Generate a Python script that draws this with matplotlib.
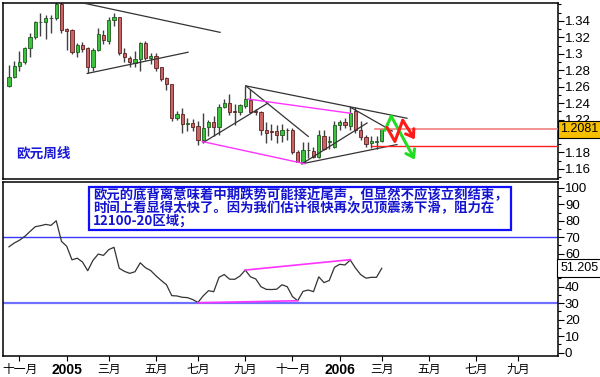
import numpy as np
import pandas as pd
import matplotlib
matplotlib.use('Agg')
import matplotlib.pyplot as plt
import matplotlib.dates as mdates
import matplotlib.transforms as mtrans
from matplotlib.patches import Rectangle
from matplotlib.ticker import MultipleLocator

plt.rcParams['font.family'] = ['Liberation Sans', 'Noto Sans CJK SC', 'DejaVu Sans']

# ---------------- data ----------------
weeks = pd.date_range('2004-10-22', periods=72, freq='W-FRI')

opens = [1.2610, 1.2720, 1.2847, 1.2905, 1.3068, 1.3204, 1.3381, 1.3381, 1.3430, 1.3430,
         1.3600, 1.3307, 1.3286, 1.3019, 1.3102, 1.3068, 1.2835, 1.3052, 1.3233, 1.3154,
         1.3409, 1.3442, 1.3012, 1.2945, 1.2892, 1.2938, 1.3135, 1.2950, 1.2970, 1.2835,
         1.2704, 1.2631, 1.2220, 1.2269, 1.2151, 1.2158, 1.2118, 1.1954, 1.2109, 1.2167,
         1.2109, 1.2355, 1.2404, 1.2302, 1.2290, 1.2364, 1.2437, 1.2302, 1.2293, 1.2077,
         1.2056, 1.2056, 1.2015, 1.2077, 1.2077, 1.1810, 1.1687, 1.1831, 1.1819, 1.1749,
         1.1995, 1.1933, 1.1872, 1.2138, 1.2167, 1.2118, 1.2302, 1.2077, 1.1982, 1.1912,
         1.1933, 1.1942]
highs = [1.2868, 1.2917, 1.3040, 1.3080, 1.3249, 1.3400, 1.3499, 1.3470, 1.3470, 1.3667,
         1.3640, 1.3310, 1.3300, 1.3130, 1.3142, 1.3080, 1.3068, 1.3311, 1.3295, 1.3450,
         1.3499, 1.3450, 1.3068, 1.2979, 1.3040, 1.3142, 1.3154, 1.3012, 1.3012, 1.2843,
         1.2720, 1.2638, 1.2302, 1.2335, 1.2220, 1.2212, 1.2179, 1.2281, 1.2200, 1.2241,
         1.2384, 1.2453, 1.2515, 1.2384, 1.2392, 1.2610, 1.2569, 1.2323, 1.2302, 1.2171,
         1.2146, 1.2138, 1.2146, 1.2097, 1.2097, 1.1831, 1.1933, 1.1933, 1.1872, 1.2077,
         1.2077, 1.1995, 1.2179, 1.2200, 1.2220, 1.2351, 1.2351, 1.2179, 1.2015, 1.1995,
         1.1995, 1.2089]
lows = [1.2597, 1.2708, 1.2794, 1.2876, 1.2958, 1.3184, 1.3212, 1.3175, 1.3249, 1.3409,
        1.3249, 1.3049, 1.3000, 1.2958, 1.3019, 1.2761, 1.2794, 1.3040, 1.3122, 1.3122,
        1.3335, 1.2991, 1.2896, 1.2835, 1.2835, 1.2794, 1.2926, 1.2876, 1.2794, 1.2671,
        1.2557, 1.2179, 1.2200, 1.2035, 1.2056, 1.2056, 1.1892, 1.1912, 1.1995, 1.1995,
        1.2015, 1.2343, 1.2261, 1.2138, 1.2261, 1.2343, 1.2281, 1.2261, 1.2015, 1.1912,
        1.1954, 1.1912, 1.1933, 1.1954, 1.1777, 1.1679, 1.1666, 1.1728, 1.1736, 1.1736,
        1.1831, 1.1843, 1.1851, 1.2077, 1.2097, 1.2077, 1.2035, 1.1954, 1.1872, 1.1859,
        1.1843, 1.1933]
closes = [1.2712, 1.2847, 1.2905, 1.3068, 1.3204, 1.3381, 1.3385, 1.3430, 1.3433, 1.3600,
          1.3295, 1.3277, 1.3019, 1.3102, 1.3061, 1.2835, 1.3052, 1.3245, 1.3163, 1.3409,
          1.3442, 1.3007, 1.2958, 1.2896, 1.2933, 1.3135, 1.2945, 1.2979, 1.2822, 1.2692,
          1.2631, 1.2220, 1.2269, 1.2146, 1.2155, 1.2114, 1.1954, 1.2097, 1.2167, 1.2109,
          1.2355, 1.2404, 1.2293, 1.2298, 1.2372, 1.2446, 1.2293, 1.2298, 1.2068, 1.2035,
          1.2052, 1.2015, 1.2077, 1.2073, 1.1802, 1.1687, 1.1831, 1.1835, 1.1749, 1.2007,
          1.1843, 1.1937, 1.2138, 1.2167, 1.2130, 1.2281, 1.2077, 1.1982, 1.1900, 1.1942,
          1.1937, 1.2081]

rsi = [64.2, 66.5, 68.2, 70.5, 73.5, 76.4, 77.0, 77.8, 77.2, 80.0,
       67.5, 64.5, 56.3, 57.3, 55.0, 49.7, 56.0, 59.8, 59.0, 62.5,
       63.9, 51.2, 49.3, 48.1, 49.1, 54.5, 51.5, 49.8, 46.6, 43.8,
       41.2, 34.6, 34.4, 33.6, 33.4, 32.2, 30.5, 34.5, 37.6, 37.0,
       45.7, 47.4, 44.6, 44.5, 46.5, 50.1, 46.0, 44.7, 40.0, 38.4,
       38.3, 38.5, 41.2, 40.0, 34.0, 31.5, 37.2, 38.0, 37.0, 46.0,
       42.5, 43.8, 51.8, 53.6, 53.2, 56.2, 51.3, 47.3, 45.2, 45.7,
       45.7, 51.205]

last_price = 1.2081
support_price = 1.1880
rsi_last = 51.205

price_ticks = [1.16, 1.18, 1.20, 1.22, 1.24, 1.26, 1.28, 1.30, 1.32, 1.34]
price_labels = ['1.16', '1.18', '', '1.22', '1.24', '1.26', '1.28', '1.3', '1.32', '1.34']
rsi_ticks = [0, 10, 20, 30, 40, 50, 60, 70, 80, 90, 100]
rsi_labels = ['0', '10', '20', '30', '40', '', '60', '70', '80', '90', '100']

tick_months = [(2004, 11), (2005, 1), (2005, 3), (2005, 5), (2005, 7), (2005, 9), (2005, 11),
               (2006, 1), (2006, 3), (2006, 5), (2006, 7), (2006, 9)]
tick_labels = ['十一月', '2005', '三月', '五月', '七月', '九月', '十一月',
               '2006', '三月', '五月', '七月', '九月']

# trend lines: (bar index, price)
black_lines = [((14.1, 1.3618), (40.2, 1.3261)),
               ((14.9, 1.2761), (34.1, 1.3019)),
               ((45.1, 1.2610), (75.8, 1.2216)),
               ((45.1, 1.2610), (57.0, 1.1995)),
               ((37.0, 1.1921), (49.3, 1.2400)),
               ((55.8, 1.1662), (73.9, 1.1896)),
               ((55.8, 1.1662), (68.2, 1.2158)),
               ((65.0, 1.2351), (73.0, 1.2060))]
magenta_lines = [((45.5, 1.2450), (65.0, 1.2277)),
                 ((36.8, 1.1933), (56.4, 1.1662))]
green_path = [(71.6, 1.2070), (72.8, 1.2241), (77.3, 1.1712)]
red_path = [(72.0, 1.2105), (73.5, 1.1933), (75.0, 1.2191), (77.3, 1.1958)]
rsi_magenta = [((45, 50.1), (65, 56.4)), ((36, 30.3), (55, 31.5))]

title_text = '欧元周线'
note_lines = ['欧元的底背离意味着中期跌势可能接近尾声，但显然不应该立刻结束，',
              '时间上看显得太快了。因为我们估计很快再次见顶震荡下滑，阻力在',
              '12100-20区域；']

# ---------------- figure ----------------
W, H = 600, 377
fig = plt.figure(figsize=(W / 100, H / 100), dpi=100)
fig.patch.set_facecolor('white')

def fr(x0, y0, x1, y1):
    return [x0 / W, 1 - y1 / H, (x1 - x0) / W, (y1 - y0) / H]

ax1 = fig.add_axes(fr(3, 3, 558, 179))
ax2 = fig.add_axes(fr(3, 182, 558, 356))

x0 = mdates.date2num(weeks[0])
def xi(i):
    return x0 + 7 * i

xs = mdates.date2num(weeks)
o = np.array(opens); h = np.array(highs); l = np.array(lows); c = np.array(closes)
up = c >= o
fill = np.where(up, '#3ec23e', '#c96464')
edge = np.where(up, '#1e5a1e', '#5a2020')

ax1.vlines(xs, l, h, color='#404040', lw=1.0, zorder=2)
bottoms = np.minimum(o, c)
heights = np.maximum(np.abs(c - o), 0.0004)
ax1.bar(xs, heights, bottom=bottoms, width=4.6, color=fill, edgecolor=edge,
        linewidth=0.6, zorder=3)

for (a, b) in black_lines:
    ax1.plot([xi(a[0]), xi(b[0])], [a[1], b[1]], color='#333333', lw=0.9, zorder=4)
for (a, b) in magenta_lines:
    ax1.plot([xi(a[0]), xi(b[0])], [a[1], b[1]], color='#ff33ff', lw=1.0, zorder=4)

xr = xi(104.57)
ax1.plot([xi(69.7), xr], [last_price, last_price], color='#f08080', lw=1.2, zorder=4)
ax1.plot([xi(69.1), xr], [support_price, support_price], color='#ff2020', lw=1.0, zorder=4)

def draw_path(path, col):
    px = [xi(p[0]) for p in path]
    py = [p[1] for p in path]
    ax1.plot(px[:-1], py[:-1], color=col, lw=2.2, zorder=6, solid_capstyle='round')
    ax1.annotate('', xy=(px[-1], py[-1]), xytext=(px[-2], py[-2]),
                 arrowprops=dict(arrowstyle='->,head_length=0.5,head_width=0.35',
                                 color=col, lw=2.2, shrinkA=0, shrinkB=0), zorder=6)

draw_path(green_path, '#22dd22')
draw_path(red_path, '#ff1a1a')

ax1.set_xlim(xi(-1.14), xr)
ax1.set_ylim(1.1477, 1.3618)
ax1.yaxis.tick_right()
ax1.set_yticks(price_ticks)
ax1.set_yticklabels(price_labels)
ax1.yaxis.set_minor_locator(MultipleLocator(0.01))
ax1.tick_params(axis='y', which='major', direction='out', length=4, width=0.8,
                pad=1, labelsize=9.5)
ax1.tick_params(axis='y', which='minor', direction='out', length=2.5, width=0.8)
ax1.set_xticks([])
for s in ax1.spines.values():
    s.set_linewidth(1.1)

ax1.text(0.0234, 0.142, title_text, transform=ax1.transAxes, ha='left', va='center',
         fontsize=9.8, fontweight='bold', color='#1a1ad6',
         family=['Noto Sans CJK SC', 'DejaVu Sans'])

tb = mtrans.blended_transform_factory(ax1.transAxes, ax1.transData)
ax1.text(1.004, last_price, '%.4f' % last_price, transform=tb, ha='left', va='center',
         fontsize=9, color='black', zorder=10, clip_on=False,
         bbox=dict(boxstyle='square,pad=0.18', fc='#f6c000', ec='black', lw=0.8))

# ---------------- bottom panel ----------------
ax2.plot(xs, rsi, color='#333333', lw=0.9, zorder=3)
ax2.axhline(70, color='#3a3aff', lw=1.0, zorder=2)
ax2.axhline(30, color='#7070ff', lw=1.6, zorder=2)
for (a, b) in rsi_magenta:
    ax2.plot([xi(a[0]), xi(b[0])], [a[1], b[1]], color='#ff33ff', lw=1.2, zorder=4)

ax2.set_xlim(xi(-1.14), xr)
ax2.set_ylim(-2, 103.5)
ax2.yaxis.tick_right()
ax2.set_yticks(rsi_ticks)
ax2.set_yticklabels(rsi_labels)
ax2.yaxis.set_minor_locator(MultipleLocator(5))
ax2.tick_params(axis='y', which='major', direction='out', length=4, width=0.8,
                pad=1, labelsize=9.5)
ax2.tick_params(axis='y', which='minor', direction='out', length=2.5, width=0.8)
for s in ax2.spines.values():
    s.set_linewidth(1.1)

all_fri = pd.Series(pd.date_range('2004-10-22', '2006-12-31', freq='W-FRI'))
firsts = all_fri.groupby([all_fri.dt.year, all_fri.dt.month]).first()
tick_pos = [mdates.date2num(firsts[(y, m)]) for (y, m) in tick_months]
ax2.set_xticks(tick_pos)
ax2.set_xticklabels(tick_labels)
ax2.tick_params(axis='x', direction='out', length=3.5, width=0.8, pad=1.5)
for lab in ax2.get_xticklabels():
    if lab.get_text().isdigit():
        lab.set_fontsize(10)
        lab.set_fontweight('bold')
    else:
        lab.set_fontsize(8.5)
        lab.set_family(['Noto Sans CJK SC', 'DejaVu Sans'])

tb2 = mtrans.blended_transform_factory(ax2.transAxes, ax2.transData)
ax2.text(1.004, rsi_last, '%.3f' % rsi_last, transform=tb2, ha='left', va='center',
         fontsize=9, color='black', zorder=10, clip_on=False,
         bbox=dict(boxstyle='square,pad=0.25', fc='white', ec='black', lw=0.8))

# note box
ax2.add_patch(Rectangle((0.1555, 0.724), 0.9153 - 0.1555, 0.973 - 0.724,
                        transform=ax2.transAxes, fc='white', ec='#1010ff', lw=1.6,
                        zorder=8))
for yy, line in zip([0.925, 0.849, 0.776], note_lines):
    ax2.text(0.1627, yy, line, transform=ax2.transAxes, ha='left', va='center',
             fontsize=9.6, fontweight='bold', color='#1414d0', zorder=9,
             family=['Noto Sans CJK SC', 'DejaVu Sans'])

fig.savefig('out.png', dpi=100, facecolor='white')
